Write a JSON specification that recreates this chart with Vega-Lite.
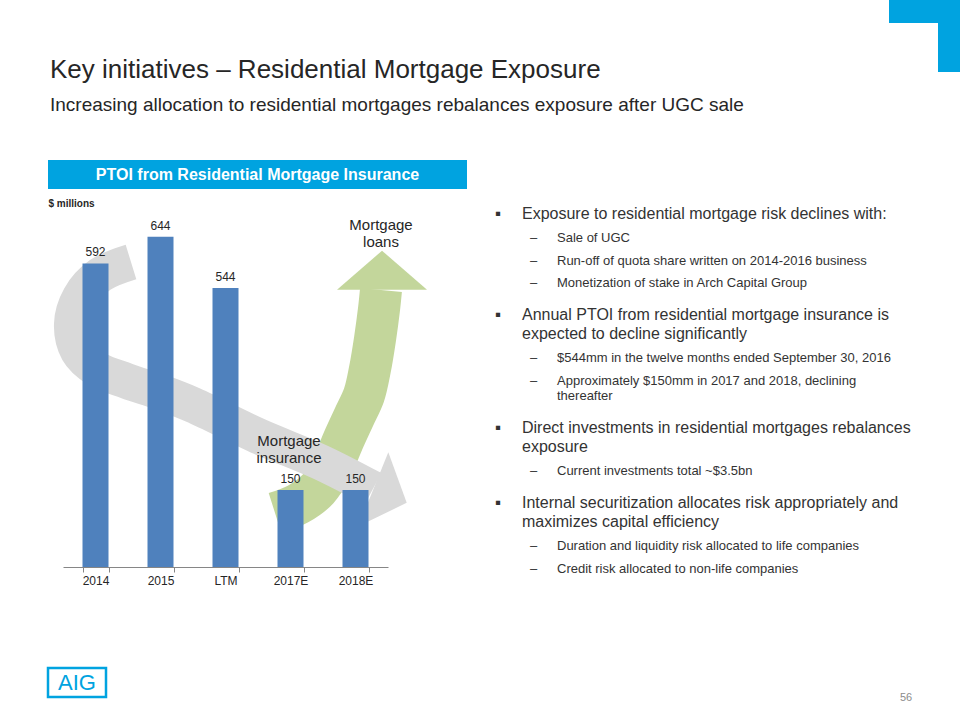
{
  "$schema": "https://vega.github.io/schema/vega-lite/v6.json",
  "padding": {"left": 46, "top": 0, "right": 0, "bottom": 0},
  "background": "white",
  "config": {
    "font": "Liberation Sans",
    "view": {"stroke": null},
    "title": {"font": "Liberation Sans", "subtitleFont": "Liberation Sans"}
  },
  "spacing": 45,
  "vconcat": [
    {
      "spacing": 41,
      "hconcat": [
        {
          "width": 800,
          "height": 57,
          "title": {
            "text": "Key initiatives – Residential Mortgage Exposure",
            "subtitle": "Increasing allocation to residential mortgages rebalances exposure after UGC sale",
            "orient": "bottom",
            "anchor": "start",
            "frame": "group",
            "dx": 2,
            "offset": 0,
            "baseline": "top",
            "fontSize": 26,
            "fontWeight": "normal",
            "color": "#262626",
            "subtitleFontSize": 19,
            "subtitleColor": "#262626",
            "subtitlePadding": 13
          },
          "data": {"values": []},
          "mark": "text"
        },
        {
          "spacing": 0,
          "hconcat": [
            {"width": 49, "height": 23, "data": {"values": [{"part": "top"}]}, "mark": {"type": "rect", "color": "#00a3e0"}},
            {"width": 22, "height": 72, "data": {"values": [{"part": "side"}]}, "mark": {"type": "rect", "color": "#00a3e0"}}
          ]
        }
      ]
    },
    {
      "spacing": 76,
      "vconcat": [
        {
          "spacing": 23,
          "hconcat": [
            {
              "spacing": 9,
              "vconcat": [
                {
                  "width": 419,
                  "height": 29,
                  "data": {"values": [{"t": "PTOI from Residential Mortgage Insurance"}]},
                  "layer": [
                    {"mark": {"type": "rect", "color": "#00a3e0"}},
                    {"mark": {"type": "text", "color": "white", "fontSize": 16, "fontWeight": "bold"}, "encoding": {"text": {"field": "t", "type": "nominal"}}}
                  ]
                },
                {
                  "width": 340,
                  "height": 359,
                  "resolve": {"scale": {"x": "independent"}},
                  "layer": [
                    {
                      "data": {"values": [
                        {"i": 0, "ax": 3.262, "ay": 105.3},
                        {"i": 1, "ax": 3.615, "ay": 122.8},
                        {"i": 2, "ax": 3.923, "ay": 152.1},
                        {"i": 3, "ax": 4.138, "ay": 195.0},
                        {"i": 4, "ax": 4.308, "ay": 245.7},
                        {"i": 5, "ax": 4.477, "ay": 292.5},
                        {"i": 6, "ax": 4.631, "ay": 335.3},
                        {"i": 7, "ax": 4.723, "ay": 386.0},
                        {"i": 8, "ax": 4.800, "ay": 444.5},
                        {"i": 9, "ax": 4.862, "ay": 503.0},
                        {"i": 10, "ax": 4.892, "ay": 540.1}
                      ]},
                      "mark": {"type": "line", "interpolate": "catmull-rom", "strokeWidth": 42, "strokeCap": "butt", "strokeJoin": "round", "color": "#c3d69b"},
                      "encoding": {
                        "x": {"field": "ax", "type": "quantitative", "scale": {"domain": [0, 5], "range": [15, 340], "nice": false, "zero": false}, "axis": null},
                        "y": {"field": "ay", "type": "quantitative", "scale": {"domain": [0, 700], "nice": false},
                          "axis": {"domain": false, "ticks": false, "labels": false, "grid": false, "title": "$ millions", "titleAngle": 0, "titleX": 0, "titleY": -2, "titleAlign": "left", "titleBaseline": "alphabetic", "titleFontSize": 10, "titleFontWeight": "bold", "titleColor": "#262626", "minExtent": 0, "maxExtent": 0}},
                        "order": {"field": "i", "type": "quantitative"}
                      }
                    },
                    {
                      "data": {"values": [{"ax": 4.908, "ay": 578.7}]},
                      "mark": {"type": "point", "shape": "M-1,0.433L0,-0.433L1,0.433Z", "size": 8100, "filled": true, "opacity": 1, "color": "#c3d69b", "strokeWidth": 0},
                      "encoding": {
                        "x": {"field": "ax", "type": "quantitative", "scale": {"domain": [0, 5], "range": [15, 340], "nice": false, "zero": false}, "axis": null},
                        "y": {"field": "ay", "type": "quantitative", "scale": {"domain": [0, 700], "nice": false},
                          "axis": {"domain": false, "ticks": false, "labels": false, "grid": false, "title": "$ millions", "titleAngle": 0, "titleX": 0, "titleY": -2, "titleAlign": "left", "titleBaseline": "alphabetic", "titleFontSize": 10, "titleFontWeight": "bold", "titleColor": "#262626", "minExtent": 0, "maxExtent": 0}}
                      }
                    },
                    {
                      "data": {"values": [
                        {"i": 0, "ax": 1.046, "ay": 594.7},
                        {"i": 1, "ax": 0.569, "ay": 569.3},
                        {"i": 2, "ax": 0.262, "ay": 526.4},
                        {"i": 3, "ax": 0.138, "ay": 473.8},
                        {"i": 4, "ax": 0.231, "ay": 421.1},
                        {"i": 5, "ax": 0.523, "ay": 386.0},
                        {"i": 6, "ax": 0.985, "ay": 362.6},
                        {"i": 7, "ax": 1.492, "ay": 341.2},
                        {"i": 8, "ax": 2.0, "ay": 315.9},
                        {"i": 9, "ax": 3.0, "ay": 255.4},
                        {"i": 10, "ax": 3.954, "ay": 204.7},
                        {"i": 11, "ax": 4.769, "ay": 152.1}
                      ]},
                      "mark": {"type": "line", "interpolate": "catmull-rom", "strokeWidth": 36, "strokeCap": "butt", "strokeJoin": "round", "color": "#d9d9d9"},
                      "encoding": {
                        "x": {"field": "ax", "type": "quantitative", "scale": {"domain": [0, 5], "range": [15, 340], "nice": false, "zero": false}, "axis": null},
                        "y": {"field": "ay", "type": "quantitative", "scale": {"domain": [0, 700], "nice": false},
                          "axis": {"domain": false, "ticks": false, "labels": false, "grid": false, "title": "$ millions", "titleAngle": 0, "titleX": 0, "titleY": -2, "titleAlign": "left", "titleBaseline": "alphabetic", "titleFontSize": 10, "titleFontWeight": "bold", "titleColor": "#262626", "minExtent": 0, "maxExtent": 0}},
                        "order": {"field": "i", "type": "quantitative"}
                      }
                    },
                    {
                      "data": {"values": [{"ax": 5.031, "ay": 138.4}]},
                      "mark": {"type": "point", "shape": "M-0.45,-1L0.45,0L-0.45,1Z", "size": 6400, "angle": 22, "filled": true, "opacity": 1, "color": "#d9d9d9", "strokeWidth": 0},
                      "encoding": {
                        "x": {"field": "ax", "type": "quantitative", "scale": {"domain": [0, 5], "range": [15, 340], "nice": false, "zero": false}, "axis": null},
                        "y": {"field": "ay", "type": "quantitative", "scale": {"domain": [0, 700], "nice": false},
                          "axis": {"domain": false, "ticks": false, "labels": false, "grid": false, "title": "$ millions", "titleAngle": 0, "titleX": 0, "titleY": -2, "titleAlign": "left", "titleBaseline": "alphabetic", "titleFontSize": 10, "titleFontWeight": "bold", "titleColor": "#262626", "minExtent": 0, "maxExtent": 0}}
                      }
                    },
                    {
                      "data": {"values": [
                        {"period": "2014", "ptoi": 592},
                        {"period": "2015", "ptoi": 644},
                        {"period": "LTM", "ptoi": 544},
                        {"period": "2017E", "ptoi": 150},
                        {"period": "2018E", "ptoi": 150}
                      ]},
                      "encoding": {
                        "x": {"field": "period", "type": "nominal", "sort": null, "scale": {"range": [15, 340], "paddingInner": 0.6, "paddingOuter": 0.3},
                          "axis": {"title": null, "labelAngle": 0, "labelFontSize": 12, "labelColor": "#262626", "domainColor": "#868686", "tickColor": "#868686", "tickSize": 5, "tickBand": "extent", "labelPadding": 3, "grid": false}},
                        "y": {"field": "ptoi", "type": "quantitative", "scale": {"domain": [0, 700], "nice": false},
                          "axis": {"domain": false, "ticks": false, "labels": false, "grid": false, "title": "$ millions", "titleAngle": 0, "titleX": 0, "titleY": -2, "titleAlign": "left", "titleBaseline": "alphabetic", "titleFontSize": 10, "titleFontWeight": "bold", "titleColor": "#262626", "minExtent": 0, "maxExtent": 0}}
                      },
                      "layer": [
                        {"mark": {"type": "bar", "color": "#4f81bd"}},
                        {"mark": {"type": "text", "baseline": "bottom", "dy": -4, "fontSize": 12, "color": "#262626"}, "encoding": {"text": {"field": "ptoi", "type": "quantitative"}}}
                      ]
                    },
                    {
                      "data": {"values": [
                        {"ax": 4.892, "ay": 666.8, "lbl": ["Mortgage", "loans"]},
                        {"ax": 3.477, "ay": 245.7, "lbl": ["Mortgage", "insurance"]}
                      ]},
                      "mark": {"type": "text", "fontSize": 15, "lineHeight": 17, "color": "#262626"},
                      "encoding": {
                        "x": {"field": "ax", "type": "quantitative", "scale": {"domain": [0, 5], "range": [15, 340], "nice": false, "zero": false}, "axis": null},
                        "y": {"field": "ay", "type": "quantitative", "scale": {"domain": [0, 700], "nice": false},
                          "axis": {"domain": false, "ticks": false, "labels": false, "grid": false, "title": "$ millions", "titleAngle": 0, "titleX": 0, "titleY": -2, "titleAlign": "left", "titleBaseline": "alphabetic", "titleFontSize": 10, "titleFontWeight": "bold", "titleColor": "#262626", "minExtent": 0, "maxExtent": 0}},
                        "text": {"field": "lbl", "type": "nominal"}
                      }
                    }
                  ]
                }
              ]
            },
            {
              "width": 430,
              "height": 430,
              "data": {"values": [
                {"lvl": 1, "line": 0, "b": "▪", "t": "Exposure to residential mortgage risk declines with:"},
                {"lvl": 2, "line": 1.02, "b": "–", "t": "Sale of UGC"},
                {"lvl": 2, "line": 2.0, "b": "–", "t": "Run-off of quota share written on 2014-2016 business"},
                {"lvl": 2, "line": 2.94, "b": "–", "t": "Monetization of stake in Arch Capital Group"},
                {"lvl": 1, "line": 4.3, "b": "▪", "t": "Annual PTOI from residential mortgage insurance is"},
                {"lvl": 1, "line": 5.11, "b": "", "t": "expected to decline significantly"},
                {"lvl": 2, "line": 6.13, "b": "–", "t": "$544mm in the twelve months ended September 30, 2016"},
                {"lvl": 2, "line": 7.11, "b": "–", "t": "Approximately $150mm in 2017 and 2018, declining"},
                {"lvl": 2, "line": 7.74, "b": "", "t": "thereafter"},
                {"lvl": 1, "line": 9.11, "b": "▪", "t": "Direct investments in residential mortgages rebalances"},
                {"lvl": 1, "line": 9.91, "b": "", "t": "exposure"},
                {"lvl": 2, "line": 10.94, "b": "–", "t": "Current investments total ~$3.5bn"},
                {"lvl": 1, "line": 12.3, "b": "▪", "t": "Internal securitization allocates risk appropriately and"},
                {"lvl": 1, "line": 13.11, "b": "", "t": "maximizes capital efficiency"},
                {"lvl": 2, "line": 14.13, "b": "–", "t": "Duration and liquidity risk allocated to life companies"},
                {"lvl": 2, "line": 15.11, "b": "–", "t": "Credit risk allocated to non-life companies"}
              ]},
              "encoding": {
                "x": {"field": "lvl", "type": "quantitative", "scale": {"domain": [1, 2], "range": [5, 40], "nice": false, "zero": false}, "axis": null},
                "y": {"field": "line", "type": "quantitative", "scale": {"domain": [-2.3, 16], "reverse": true, "nice": false, "zero": false}, "axis": null}
              },
              "resolve": {"scale": {"size": "independent"}},
              "layer": [
                {
                  "mark": {"type": "text", "align": "left", "baseline": "middle", "color": "#333333"},
                  "encoding": {
                    "text": {"field": "b", "type": "nominal"},
                    "size": {"field": "lvl", "type": "ordinal", "scale": {"domain": [1, 2], "range": [17, 13]}, "legend": null}
                  }
                },
                {
                  "mark": {"type": "text", "align": "left", "baseline": "middle", "dx": 27, "color": "#333333"},
                  "encoding": {
                    "text": {"field": "t", "type": "nominal"},
                    "size": {"field": "lvl", "type": "ordinal", "scale": {"domain": [1, 2], "range": [16, 13]}, "legend": null}
                  }
                }
              ]
            }
          ]
        },
        {
          "spacing": 788,
          "hconcat": [
            {
              "width": 58,
              "height": 29,
              "data": {"values": [{"t": "AIG"}]},
              "layer": [
                {"mark": {"type": "rect", "fill": "white", "stroke": "#00a3e0", "strokeWidth": 2.5}},
                {"mark": {"type": "text", "fontSize": 22, "color": "#00a3e0"}, "encoding": {"text": {"field": "t", "type": "nominal"}}}
              ]
            },
            {
              "width": 20,
              "height": 50,
              "data": {"values": [{"n": "56"}]},
              "mark": {"type": "text", "fontSize": 11, "color": "#8c8c8c", "dy": 5},
              "encoding": {"text": {"field": "n", "type": "nominal"}}
            }
          ]
        }
      ]
    }
  ]
}
